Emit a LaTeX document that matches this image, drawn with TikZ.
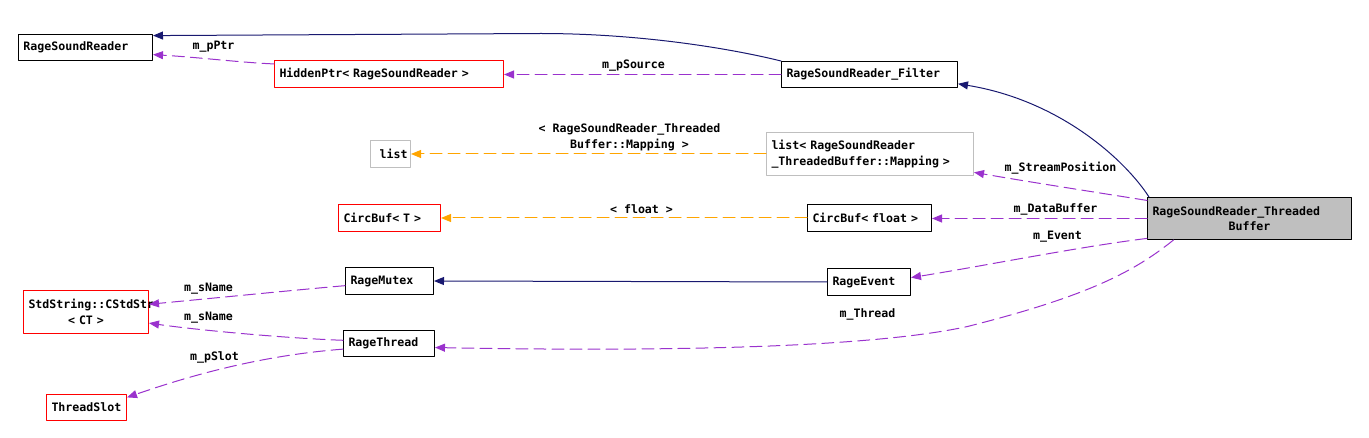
\documentclass[tikz,border=0pt]{standalone}
\usepackage{pgf,tikz}
\usetikzlibrary{arrows.meta}
\usepackage{fontspec}
\setmonofont{DejaVu Sans Mono}
\usepackage{color}
\definecolor{navy}{RGB}{25,25,112}
\definecolor{orchid}{RGB}{154,50,205}
\definecolor{amber}{RGB}{255,165,0}
\definecolor{grayline}{RGB}{191,191,191}
\begin{document}
\begin{tikzpicture}[line cap=round,line join=round,>={Triangle[length=10pt,width=8pt]},x=1pt,y=-1pt,
  cls/.style={draw=black,line width=1pt,inner xsep=5pt,inner ysep=2pt,align=left,
    font=\ttfamily\bfseries\fontsize{11.6pt}{15.5pt}\selectfont},
  tmpl/.style={cls,draw=red},
  ext/.style={cls,draw=grayline},
  lbl/.style={inner sep=0pt,align=center,font=\ttfamily\bfseries\fontsize{11.6pt}{15.5pt}\selectfont},
  inh/.style={draw=navy,line width=1pt,->},
  mem/.style={draw=orchid,line width=1pt,dash pattern=on 12pt off 6pt,->},
  tpl/.style={draw=amber,line width=1pt,dash pattern=on 12pt off 6pt,->}]
\useasboundingbox (-0.5,-0.5) rectangle (1368.5,437.5);
\node[cls,text width=124pt,minimum height=26pt] (rsr) at (85,47) {RageSoundReader};
\node[tmpl,text width=219pt,minimum height=27pt] (hptr) at (388.5,73.5) {HiddenPtr< RageSoundReader >};
\node[cls,text width=166pt,minimum height=26pt] (filt) at (869,74) {RageSoundReader\_Filter};
\node[ext,text width=34pt,inner xsep=3pt,align=right,minimum height=27pt] (lst) at (390,153.5) {list};
\node[ext,text width=197pt,minimum height=43pt] (lstm) at (869.5,153.5) {list< RageSoundReader\\\_ThreadedBuffer::Mapping >};
\node[tmpl,text width=92pt,minimum height=27pt] (cbt) at (389,217.5) {CircBuf< T >};
\node[cls,text width=114pt,minimum height=27pt] (cbf) at (869,217.5) {CircBuf< float >};
\node[cls,fill=grayline,text width=194pt,align=center,minimum height=42pt] (trb) at (1249,218)
  {\makebox[194pt][l]{RageSoundReader\_Threaded}\\Buffer};
\node[cls,text width=78pt,minimum height=27pt] (mtx) at (389,280.5) {RageMutex};
\node[cls,text width=73pt,minimum height=27pt] (evt) at (868.5,281.5) {RageEvent};
\node[tmpl,text width=115pt,align=center,minimum height=43pt] (std) at (85.5,311.5)
  {\makebox[115pt][l]{StdString::CStdStr}\\< CT >};
\node[cls,text width=81pt,minimum height=26pt] (thr) at (388.5,343) {RageThread};
\node[tmpl,text width=70pt,minimum height=26pt] (slot) at (86,407) {ThreadSlot};

\draw[inh] (filt.north west) .. controls (730,48) and (640,33) .. (540,33) -- (rsr.10);
\draw[mem] (hptr.175) .. controls (240,62) and (200,57) .. (rsr.-6.5);
\node[lbl] (lpptr) at (213,46) {m\_pPtr};
\draw[mem] (filt.west) -- (filt.west -| hptr.east);
\node[lbl] (lpsrc) at (633,65) {m\_pSource};
\draw[inh] ([xshift=2pt]trb.north west) .. controls (1125,160) and (1060,100) .. (filt.-6.5);
\draw[tpl] (lstm.west) -- (lst.east);
\node[lbl] (lmap) at (629,137) {< RageSoundReader\_Threaded\\Buffer::Mapping >};
\draw[mem] (trb.170) .. controls (1090,191) and (1020,180) .. (lstm.-10);
\node[lbl] (lpos) at (1060,168) {m\_StreamPosition};
\draw[tpl] (cbf.west) -- (cbt.east);
\node[lbl] (lflt) at (641,209) {< float >};
\draw[mem] (trb.west) -- (trb.west -| cbf.east);
\node[lbl] (ldata) at (1055,209) {m\_DataBuffer};
\draw[mem] (trb.191) .. controls (1080,246) and (980,266) .. (evt.6);
\node[lbl] (levt) at (1057,236) {m\_Event};
\draw[inh] (evt.west) -- (mtx.east);
\draw[mem] ([xshift=-76pt]trb.south) .. controls (1135,270) and (1090,295) .. (967,326)
  .. controls (880,345) and (700,352) .. (thr.-5);
\node[lbl] (lthr) at (867,314) {m\_Thread};
\draw[mem] (mtx.186) .. controls (300,289) and (220,297) .. (std.7);
\node[lbl] (lname) at (208,288) {m\_sName};
\draw[mem] (thr.176) .. controls (290,338) and (200,330) .. (std.-10);
\node[lbl] (lname2) at (208,317) {m\_sName};
\draw[mem] (thr.187) .. controls (260,355) and (190,375) .. (slot.14);
\node[lbl] (lslot) at (214,357) {m\_pSlot};
\end{tikzpicture}
\end{document}
